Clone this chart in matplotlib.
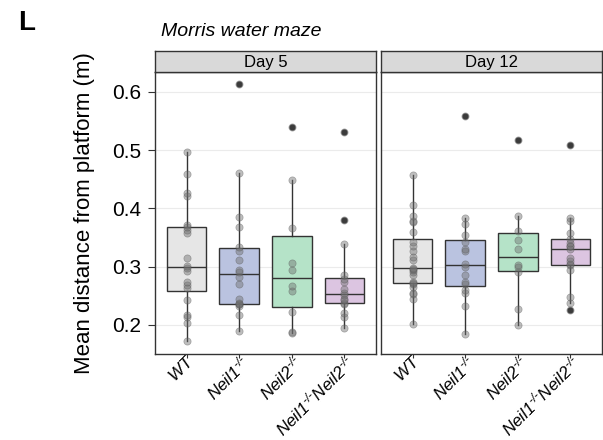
import numpy as np
import matplotlib
matplotlib.use("Agg")
import matplotlib.pyplot as plt

plt.rcParams["font.family"] = "Liberation Sans"
plt.rcParams["mathtext.fontset"] = "custom"
plt.rcParams["mathtext.rm"] = "Liberation Sans:italic"
plt.rcParams["mathtext.it"] = "Liberation Sans:italic"

days = ["Day 5", "Day 12"]
genotypes = ["WT", "Neil1", "Neil2", "Neil1Neil2"]
tick_labels = [r"$\mathit{WT}$",
               r"$\mathit{Neil1}^{\text{-/-}}$",
               r"$\mathit{Neil2}^{\text{-/-}}$",
               r"$\mathit{Neil1}^{\text{-/-}}\mathit{Neil2}^{\text{-/-}}$"]
fill_colors = ["#e6e6e6", "#bac3e0", "#b5e3c8", "#dcc5e1"]

# Day 5
d5_wt = [0.173, 0.203, 0.214, 0.217, 0.243, 0.264, 0.268, 0.273, 0.293, 0.297,
         0.301, 0.314, 0.357, 0.363, 0.368, 0.371, 0.422, 0.426, 0.459, 0.497]
d5_neil1 = [0.190, 0.217, 0.233, 0.235, 0.236, 0.238, 0.245, 0.271, 0.283, 0.291,
            0.295, 0.312, 0.326, 0.334, 0.368, 0.385, 0.461, 0.613]
d5_neil2 = [0.186, 0.188, 0.222, 0.258, 0.267, 0.295, 0.307, 0.367, 0.449, 0.539]
d5_dko = [0.194, 0.214, 0.221, 0.235, 0.238, 0.242, 0.245, 0.252, 0.255, 0.261,
          0.273, 0.278, 0.286, 0.339, 0.380, 0.531]

# Day 12
d12_wt = [0.201, 0.244, 0.253, 0.255, 0.265, 0.271, 0.272, 0.274, 0.285, 0.291,
          0.294, 0.296, 0.298, 0.312, 0.316, 0.327, 0.335, 0.343, 0.360, 0.377,
          0.378, 0.387, 0.406, 0.457]
d12_neil1 = [0.185, 0.233, 0.255, 0.260, 0.270, 0.273, 0.285, 0.300, 0.305, 0.326,
             0.330, 0.342, 0.354, 0.373, 0.383, 0.559]
d12_neil2 = [0.200, 0.227, 0.291, 0.299, 0.302, 0.331, 0.345, 0.361, 0.387, 0.518]
d12_dko = [0.226, 0.238, 0.247, 0.295, 0.302, 0.304, 0.309, 0.314, 0.331, 0.335,
           0.336, 0.340, 0.347, 0.357, 0.379, 0.384, 0.509]

panels = [[d5_wt, d5_neil1, d5_neil2, d5_dko],
          [d12_wt, d12_neil1, d12_neil2, d12_dko]]
y_ticks = [0.2, 0.3, 0.4, 0.5, 0.6]

fig = plt.figure(figsize=(6.03, 4.4), dpi=100)
lefts = [155 / 603, 381 / 603]
width = 221 / 603
bottom = 1 - 354 / 440
height = (354 - 72) / 440
strip_h = 21 / 440

edge = "#333333"
positions = np.arange(1, 5)

for i, (day, groups) in enumerate(zip(days, panels)):
    ax = fig.add_axes([lefts[i], bottom, width, height])
    ax.set_xlim(0.4, 4.6)
    ax.set_ylim(0.15, 0.634)
    for y in y_ticks:
        ax.axhline(y, color="#ebebeb", lw=0.8, zorder=0)

    bp = ax.boxplot(groups, positions=positions, widths=0.75, whis=1.5,
                    patch_artist=True, showcaps=False,
                    flierprops=dict(marker="o", markerfacecolor="#111111",
                                    markeredgecolor="#111111", markersize=3.5),
                    medianprops=dict(color=edge, lw=1.0),
                    whiskerprops=dict(color=edge, lw=1.0),
                    boxprops=dict(edgecolor=edge, lw=1.0), zorder=2)
    for patch, c in zip(bp["boxes"], fill_colors):
        patch.set_facecolor(c)

    for pos, vals in zip(positions, groups):
        ax.scatter(np.full(len(vals), pos), vals, s=27, color="#707070",
                   alpha=0.45, edgecolors="#555555", linewidths=0.5, zorder=3)

    for s in ax.spines.values():
        s.set_color(edge)
        s.set_linewidth(1.0)

    ax.set_xticks(positions)
    ax.set_xticklabels(tick_labels, rotation=45, ha="right", va="top",
                       rotation_mode="anchor", fontsize=12.3)
    ax.tick_params(axis="x", length=3, color=edge, pad=-4)
    ax.set_yticks(y_ticks)
    if i == 0:
        ax.set_yticklabels(["0.2", "0.3", "0.4", "0.5", "0.6"], fontsize=15)
        ax.tick_params(axis="y", length=5, color=edge, pad=5)
        ax.set_ylabel("Mean distance from platform (m)", fontsize=16, labelpad=12)
    else:
        ax.tick_params(axis="y", length=0, labelleft=False)

    sax = fig.add_axes([lefts[i], bottom + height, width, strip_h])
    sax.set_facecolor("#d9d9d9")
    sax.set_xticks([])
    sax.set_yticks([])
    for s in sax.spines.values():
        s.set_color(edge)
        s.set_linewidth(1.0)
    sax.text(0.5, 0.45, day, ha="center", va="center", fontsize=12,
             transform=sax.transAxes)

fig.text(161 / 603, 1 - 31 / 440, "Morris water maze", style="italic",
         fontsize=14, ha="left", va="center")
fig.text(18 / 603, 1 - 23 / 440, "L", fontweight="bold", fontsize=20,
         ha="left", va="center")

fig.savefig("out.png", dpi=100)
